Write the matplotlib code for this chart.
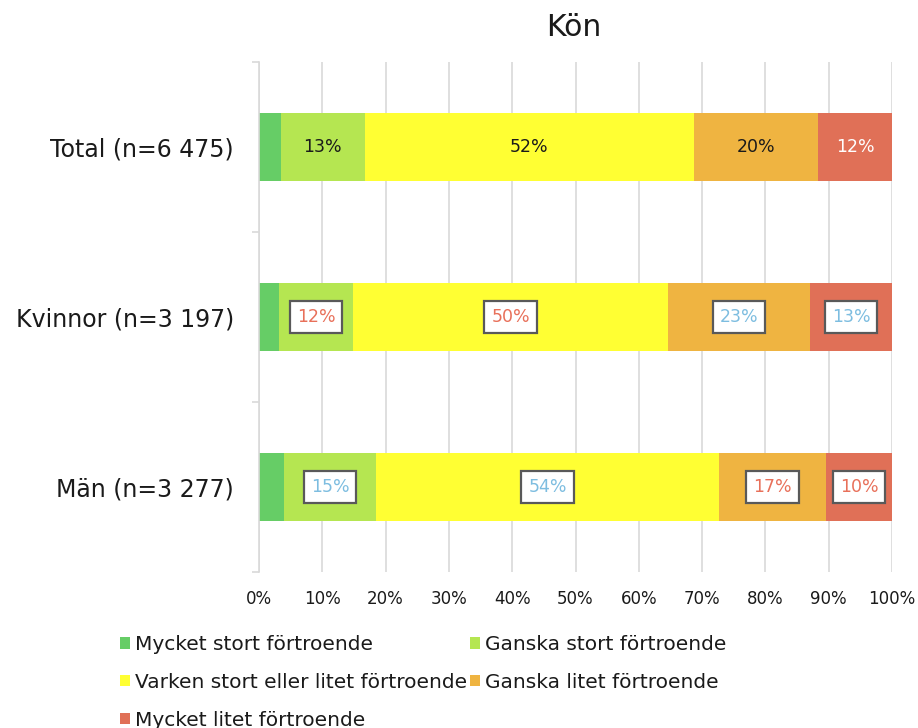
import matplotlib
matplotlib.use("Agg")
import matplotlib.pyplot as plt
import numpy as np

plt.rcParams['font.family'] = ['DejaVu Sans']

categories = ["Total (n=6 475)", "Kvinnor (n=3 197)", "Män (n=3 277)"]
series_names = ["Mycket stort förtroende", "Ganska stort förtroende",
                "Varken stort eller litet förtroende", "Ganska litet förtroende",
                "Mycket litet förtroende"]
mycket_stort = [3.5, 3.1, 4.0]
ganska_stort = [13.2, 11.8, 14.5]
varken = [52.0, 49.7, 54.2]
ganska_litet = [19.6, 22.5, 16.9]
mycket_litet = [11.7, 12.9, 10.4]
series_values = [mycket_stort, ganska_stort, varken, ganska_litet, mycket_litet]

# label text per series per category (None = no label)
labels = [
    [None, None, None],
    ["13%", "12%", "15%"],
    ["52%", "50%", "54%"],
    ["20%", "23%", "17%"],
    ["12%", "13%", "10%"],
]
x_ticklabels = [f"{v}%" for v in range(0, 101, 10)]
title = "Kön"

colors = ["#66CD66", "#B5E651", "#FFFF33", "#EFB441", "#E07057"]
red_txt = "#E8705A"
blue_txt = "#7DBDE0"
label_color = [
    [None, None, None],
    ["#1a1a1a", red_txt, blue_txt],
    ["#1a1a1a", red_txt, blue_txt],
    ["#1a1a1a", blue_txt, red_txt],
    ["white", blue_txt, red_txt],
]

fig = plt.figure(figsize=(9.18, 7.28), dpi=100)
ax = fig.add_axes([259/918, 1-572/728, 633/918, 510/728])

y = np.arange(len(categories))
left = np.zeros(len(categories))
handles = []
for i, vals in enumerate(series_values):
    vals = np.array(vals)
    b = ax.barh(y, vals, left=left, height=0.4, color=colors[i], label=series_names[i], zorder=2)
    handles.append(b)
    for j in range(len(categories)):
        lab = labels[i][j]
        if lab is None:
            continue
        cx = left[j] + vals[j] / 2
        if j == 0:
            ax.text(cx, y[j], lab, ha="center", va="center", fontsize=12.5,
                    color=label_color[i][j], zorder=4)
        else:
            ax.text(cx, y[j], lab, ha="center", va="center", fontsize=12.5,
                    color=label_color[i][j], zorder=4,
                    bbox=dict(boxstyle="square,pad=0.4", fc="white", ec="#595959", lw=1.6))
    left = left + vals

ax.set_xlim(0, 100)
ax.set_ylim(2.5, -0.5)
ax.set_xticks(np.arange(0, 101, 10))
ax.set_xticklabels(x_ticklabels, fontsize=12, color="#1a1a1a")
ax.tick_params(axis="x", length=0, pad=13)
ax.set_yticks(y)
ax.set_yticklabels(categories, fontsize=17, color="#1a1a1a")
ax.tick_params(axis="y", which="major", length=0, pad=18)
ax.set_yticks([-0.5, 0.5, 1.5, 2.5], minor=True)
ax.tick_params(axis="y", which="minor", length=5, color="#D9D9D9", width=1.2)
ax.grid(axis="x", color="#D9D9D9", lw=1.2, zorder=0)
for s in ["top", "right", "bottom"]:
    ax.spines[s].set_visible(False)
ax.spines["left"].set_color("#D9D9D9")
ax.spines["left"].set_linewidth(1.2)

fig.text(574/918, 1-27/728, title, ha="center", va="center", fontsize=21.5, color="#1a1a1a")

order = [0, 2, 4, 1, 3]
leg = fig.legend([handles[k] for k in order], [series_names[k] for k in order],
                 ncol=2, loc="upper left", bbox_to_anchor=(112/918, 1-627/728),
                 frameon=False, fontsize=14.5, handlelength=0.5, handleheight=0.5,
                 handletextpad=0.25, columnspacing=0.15, labelspacing=0.93,
                 borderaxespad=0)
for t in leg.get_texts():
    t.set_color("#1a1a1a")

fig.savefig("out.png", dpi=100)
